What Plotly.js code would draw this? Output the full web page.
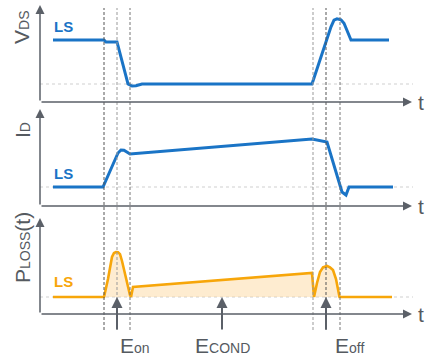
<!DOCTYPE html>
<html>
<head>
<meta charset="utf-8">
<script src="https://cdn.plot.ly/plotly-3.0.1.min.js"></script>
<style>
  html, body { margin: 0; padding: 0; background: #fff; }
  #chart { width: 432px; height: 360px; }
</style>
</head>
<body>
<div id="chart"></div>
<script>
// Low-side switch waveforms over one switching period (arbitrary units)
const tVds = [53, 104, 106, 117, 128, 132, 136, 142, 312, 331, 334, 337, 341, 344, 351, 389];
const vds  = [1, 1, 0.955, 0.955, 0, -0.045, -0.04, 0, 0, 1.3, 1.45, 1.48, 1.46, 1.38, 1.0, 1.0];

const tId = [53, 103, 118, 121, 124, 130, 312, 327, 342, 346, 349, 393];
const id  = [0, 0, 0.85, 0.925, 0.92, 0.825, 1.2, 1.125, -0.125, -0.2, 0, 0];

const tLoss = [53, 104, 108, 112, 114, 116, 118, 120, 122, 126, 130, 131, 133, 312, 314,
               317, 320, 323, 327, 330, 333, 336, 338, 339.5, 392];
const pLoss = [0, 0, 0.45, 1.0, 1.1, 1.125, 1.12, 1.07, 0.9, 0.45, 0.05, 0, 0.25, 0.6, 0,
               0.35, 0.625, 0.74, 0.775, 0.74, 0.675, 0.45, 0.2, 0, 0];

// Switching instants (edges of the turn-on / turn-off intervals)
const edges = [104, 117, 130, 313, 326, 340];
const edgeColors = ['#555', '#999', '#777', '#999', '#555', '#777'];

// Energy markers on the loss plot
const energyT = [117, 222, 326];
const energyLabels = [
  'E<span style="font-size:14px">on</span>',
  'E<span style="font-size:14px">COND</span>',
  'E<span style="font-size:14px">off</span>'
];
const energyLabelT = [135, 222, 349];

const W = 432, H = 360;
const px = v => v / W;
const py = v => 1 - v / H;

// panel geometry: baseline pixel, pixels per unit, x-axis pixel, arrow top pixel
const panels = [
  { base: 84,  scale: 44, axis: 102, top: 5 },
  { base: 187, scale: 40, axis: 206, top: 109 },
  { base: 297, scale: 40, axis: 314, top: 218 }
];
const yRange = p => [(p.base - H) / p.scale, p.base / p.scale];

const BLUE = '#1a74c6';
const ORANGE = '#f7a60a';
const AXIS = '#5b6068';
const TEXT = '#555a60';
const FONT = 'Arial, "Liberation Sans", sans-serif';

const traces = [
  { x: tVds, y: vds, yaxis: 'y', type: 'scatter', mode: 'lines',
    line: { color: BLUE, width: 3 }, hoverinfo: 'skip' },
  { x: tId, y: id, yaxis: 'y2', type: 'scatter', mode: 'lines',
    line: { color: BLUE, width: 3 }, hoverinfo: 'skip' },
  { x: tLoss, y: pLoss, yaxis: 'y3', type: 'scatter', mode: 'lines',
    fill: 'tozeroy', fillcolor: 'rgba(252,213,150,0.45)',
    line: { color: ORANGE, width: 2.6 }, hoverinfo: 'skip' }
];

const shapes = [];
// dotted zero-level references
['y', 'y2', 'y3'].forEach(ref => {
  shapes.push({ type: 'line', xref: 'x', yref: ref, x0: 40, x1: 413, y0: 0, y1: 0,
    line: { color: '#cfcfcf', width: 1, dash: 'dot' }, layer: 'below' });
});
// vertical dashed markers at switching edges
edges.forEach((t, i) => {
  shapes.push({ type: 'line', xref: 'x', yref: 'paper', x0: t, x1: t,
    y0: py(330), y1: py(8),
    line: { color: edgeColors[i], width: 1, dash: '3px,2px' } });
});

const annotations = [];
const label = (o) => Object.assign({ xref: 'paper', yref: 'paper', showarrow: false,
  xanchor: 'center', yanchor: 'middle' }, o);

// axis arrows
panels.forEach(p => {
  annotations.push({ xref: 'paper', yref: 'paper', x: px(40), y: py(p.top),
    ax: 0, ay: p.axis - p.top, text: '', showarrow: true,
    arrowhead: 2, arrowsize: 1.2, arrowwidth: 1.5, arrowcolor: AXIS });
  annotations.push({ xref: 'paper', yref: 'paper', x: px(412), y: py(p.axis),
    ax: -(412 - 40), ay: 0, text: '', showarrow: true,
    arrowhead: 2, arrowsize: 1.2, arrowwidth: 1.5, arrowcolor: AXIS });
  annotations.push(label({ x: px(421), y: py(p.axis), text: 't',
    font: { family: FONT, size: 21, color: TEXT } }));
});

// axis titles
const yTitles = [
  { text: 'V<span style="font-size:14px">DS</span>', y: 28 },
  { text: 'I<span style="font-size:14px">D</span>', y: 130 },
  { text: 'P<span style="font-size:14px">LOSS</span>(t)', y: 248 }
];
yTitles.forEach(t => {
  annotations.push(label({ x: px(22), y: py(t.y), text: t.text, textangle: -90,
    font: { family: FONT, size: 21, color: TEXT } }));
});

// series labels
const lsLabels = [
  { y: 27, color: BLUE },
  { y: 173, color: BLUE },
  { y: 281, color: ORANGE }
];
lsLabels.forEach(l => {
  annotations.push(label({ x: px(52), y: py(l.y), xanchor: 'left', text: '<b>LS</b>',
    font: { family: FONT, size: 15, color: l.color } }));
});

// energy arrows and labels
energyT.forEach((t, i) => {
  annotations.push({ xref: 'x', yref: 'paper', x: t, y: py(297),
    ax: 0, ay: 34, text: '', showarrow: true,
    arrowhead: 2, arrowsize: 1.1, arrowwidth: 2, arrowcolor: AXIS });
  annotations.push(label({ xref: 'x', x: energyLabelT[i], y: py(345),
    text: energyLabels[i], font: { family: FONT, size: 21, color: TEXT } }));
});

const layout = {
  width: W, height: H,
  margin: { l: 0, r: 0, t: 0, b: 0 },
  paper_bgcolor: '#fff', plot_bgcolor: '#fff',
  showlegend: false,
  xaxis: { range: [0, W], visible: false, fixedrange: true },
  yaxis: { range: yRange(panels[0]), visible: false, fixedrange: true },
  yaxis2: { range: yRange(panels[1]), visible: false, overlaying: 'y', fixedrange: true },
  yaxis3: { range: yRange(panels[2]), visible: false, overlaying: 'y', fixedrange: true },
  shapes: shapes,
  annotations: annotations
};

Plotly.newPlot('chart', traces, layout, { staticPlot: true, displayModeBar: false });
</script>
</body>
</html>
